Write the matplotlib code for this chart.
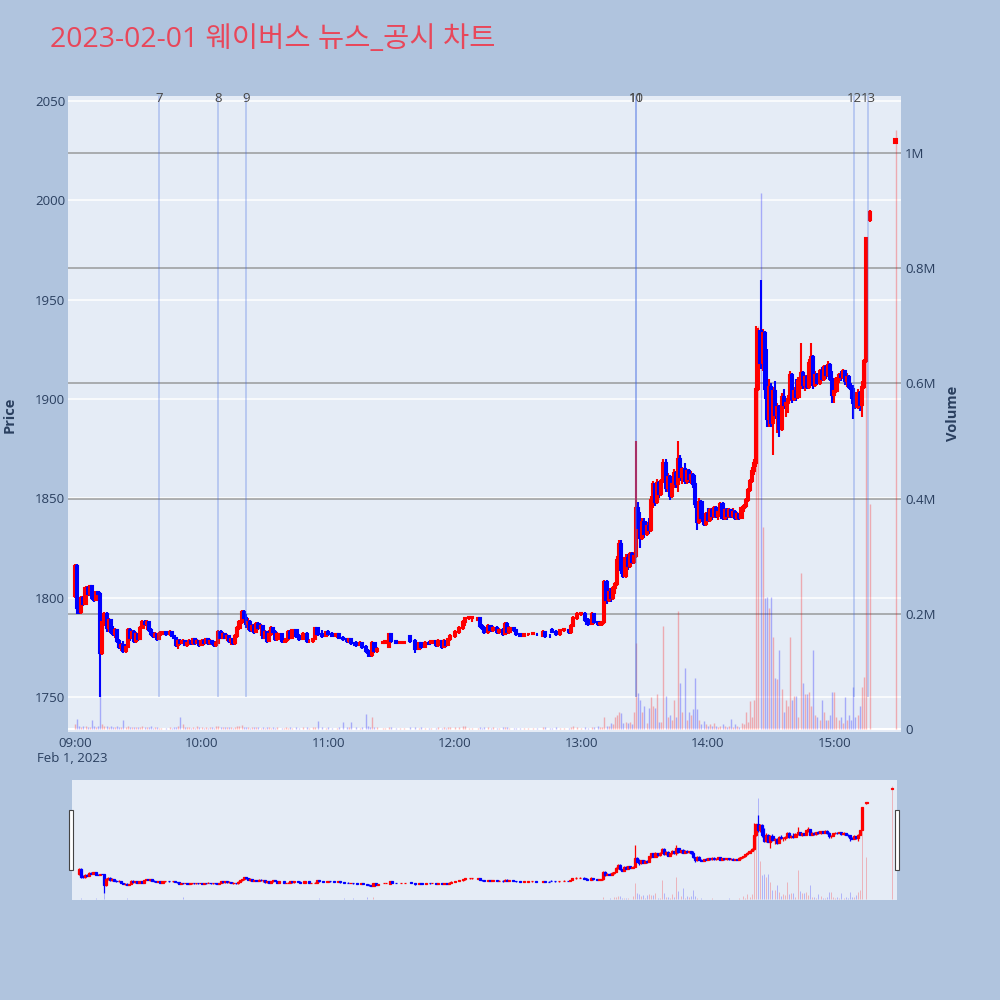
import matplotlib
matplotlib.use('Agg')
import matplotlib.pyplot as plt
from matplotlib.patches import Rectangle

plt.rcParams['font.family'] = ['Open Sans', 'Noto Sans CJK KR', 'DejaVu Sans']

TITLE = '2023-02-01 웨이버스 뉴스_공시 차트'
DATE_LABEL = 'Feb 1, 2023'
X_TICKS = [0, 60, 120, 180, 240, 300, 360]
X_TICK_LABELS = ['09:00', '10:00', '11:00', '12:00', '13:00', '14:00', '15:00']
PRICE_TICKS = [1750, 1800, 1850, 1900, 1950, 2000, 2050]
VOL_TICKS = [0, 200000, 400000, 600000, 800000, 1000000]
VOL_TICK_LABELS = ['0', '0.2M', '0.4M', '0.6M', '0.8M', '1M']

NEWS_LABELS = ['7', '8', '9', '10', '11', '12', '13']
NEWS_MIN = [40, 68, 81, 266, 266, 369.5, 376]

# minutes after 09:00
T = [0, 1, 2, 3, 4, 5, 6, 7, 8, 9, 10, 11, 12, 13, 14, 15, 16, 17, 18, 19,
     20, 21, 22, 23, 24, 25, 26, 27, 28, 29, 30, 31, 32, 33, 34, 35, 36, 37, 38, 39,
     40, 41, 43, 45, 46, 47, 48, 49, 50, 51, 52, 53, 54, 55, 56, 57, 58, 59,
     60, 61, 62, 63, 64, 65, 66, 67, 68, 69, 70, 71, 72, 73, 74, 75, 76, 77, 78, 79,
     80, 81, 82, 83, 84, 85, 86, 87, 88, 89, 90, 91, 92, 93, 94, 95, 96, 98, 99,
     100, 101, 102, 103, 105, 106, 108, 110, 111, 113, 114, 115, 117, 119,
     120, 122, 124, 125, 127, 129, 130, 131, 133, 135, 136, 138, 139,
     140, 141, 142, 143, 146, 147, 149, 150, 152, 154, 156, 159,
     161, 163, 164, 166, 168, 169, 171, 172, 174, 175, 176, 177, 178,
     180, 182, 184, 185, 187, 188, 191, 192, 193, 194, 196, 197, 198,
     200, 201, 203, 204, 205, 206, 208, 209, 211, 213, 215, 217, 219,
     222, 223, 225, 226, 228, 230, 232, 234, 235, 236, 238,
     240, 242, 243, 245, 246, 248, 249, 250,
     251, 252, 253, 254, 255, 256, 257, 258, 259, 260, 261, 262, 263, 264, 265, 266,
     267, 268, 269, 270, 271, 272, 273, 274, 275, 276, 277, 278, 279, 280,
     281, 282, 283, 284, 285, 286, 287, 288, 289, 290, 291, 292, 293, 294, 295,
     296, 297, 298, 299, 300, 301, 302, 303, 304, 305, 306, 307, 308, 309, 310,
     311, 312, 313, 314, 315, 316, 317, 318, 319, 320, 321, 322, 323, 324, 325,
     326, 327, 328, 329, 330, 331, 332, 333, 334, 335, 336, 337, 338, 339, 340,
     341, 342, 343, 344, 345, 346, 347, 348, 349, 350, 351, 352, 353, 354, 355,
     356, 357, 358, 359, 360, 361, 362, 363, 364, 365, 366, 367, 368, 369, 370,
     371, 372, 373, 374, 375, 377, 389]

O = [1801, 1816, 1795, 1793, 1800, 1797, 1805, 1802, 1806, 1800, 1799, 1803, 1802, 1772, 1788, 1792, 1785, 1789, 1783, 1782,
     1784, 1778, 1775, 1776, 1773, 1775, 1784, 1780, 1783, 1778, 1782, 1779, 1785, 1788, 1787, 1788, 1784, 1782, 1781, 1782,
     1779, 1782, 1783, 1782, 1783, 1781, 1780, 1776, 1778, 1777, 1778, 1776, 1777, 1778, 1777, 1779, 1777, 1778,
     1776, 1778, 1777, 1779, 1777, 1778, 1777, 1776, 1777, 1783, 1780, 1782, 1780, 1781, 1778, 1779, 1777, 1781, 1785, 1788,
     1793, 1790, 1787, 1788, 1784, 1786, 1783, 1787, 1785, 1786, 1780, 1783, 1778, 1782, 1785, 1783, 1779, 1782, 1778,
     1778, 1779, 1783, 1780, 1784, 1781, 1779, 1782, 1778, 1778, 1779, 1785, 1782, 1781,
     1783, 1782, 1781, 1782, 1780, 1779, 1778, 1779, 1777, 1776, 1777, 1775, 1773,
     1772, 1771, 1777, 1773, 1777, 1777, 1775, 1782, 1778, 1777, 1777, 1781,
     1778, 1774, 1777, 1775, 1777, 1777, 1778, 1776, 1778, 1775, 1778, 1776, 1779,
     1781, 1783, 1785, 1788, 1790, 1790, 1789, 1790, 1786, 1785, 1783, 1786, 1784,
     1785, 1783, 1784, 1782, 1787, 1783, 1785, 1784, 1782, 1781, 1781.6, 1782, 1782,
     1781, 1783, 1781, 1784, 1783, 1782, 1784, 1784, 1783, 1786, 1790,
     1792, 1792, 1789, 1787, 1792, 1788, 1787, 1787,
     1788, 1808, 1799, 1803, 1800, 1805, 1807, 1819, 1827, 1814, 1811, 1820, 1816, 1822, 1818, 1821,
     1845, 1835, 1830, 1838, 1832, 1836, 1834, 1849, 1857, 1848, 1858, 1852, 1859, 1868,
     1855, 1861, 1851, 1857, 1863, 1857, 1870, 1861, 1865, 1859, 1864, 1860, 1862, 1857, 1847,
     1838, 1848, 1840, 1837, 1842, 1839, 1844, 1841, 1845, 1841, 1843, 1847, 1840, 1844, 1841,
     1844, 1841, 1843, 1840, 1842, 1840, 1845, 1846, 1849, 1854, 1859, 1864, 1868, 1905, 1934,
     1918, 1933, 1905, 1890, 1906, 1888, 1904, 1892, 1896, 1885, 1901, 1897, 1898, 1900, 1912,
     1900, 1904, 1901, 1909, 1913, 1907, 1911, 1906, 1918, 1921, 1907, 1912, 1908, 1914, 1910,
     1916, 1912, 1917, 1910, 1902, 1904, 1910, 1912, 1911, 1914, 1909, 1911, 1906, 1905, 1898,
     1896, 1903, 1897, 1906, 1919, 1990, 2029]

H = [1817, 1817, 1800, 1801, 1801, 1806, 1806, 1806, 1806, 1803, 1803, 1803, 1803, 1792, 1793, 1793, 1790, 1789, 1786, 1785,
     1784, 1779, 1777, 1778, 1776, 1785, 1785, 1784, 1784, 1783, 1782, 1786, 1789, 1789, 1789, 1788, 1785, 1783, 1783, 1782,
     1783, 1783, 1783, 1784, 1783, 1781, 1780, 1779, 1779, 1779, 1778, 1778, 1779, 1778, 1779, 1779, 1779, 1778,
     1779, 1779, 1780, 1779, 1779, 1778, 1778, 1778, 1784, 1784, 1783, 1782, 1782, 1781, 1780, 1779, 1782, 1786, 1789, 1794,
     1794, 1792, 1790, 1789, 1787, 1787, 1788, 1788, 1787, 1786, 1784, 1783, 1784, 1786, 1785, 1784, 1783, 1782, 1779,
     1780, 1784, 1784, 1784, 1784, 1782, 1783, 1783, 1779, 1780, 1785, 1785, 1784, 1783,
     1784, 1783, 1782, 1782, 1781, 1780, 1779, 1779, 1778, 1778, 1777, 1776, 1774,
     1773, 1778, 1777, 1775, 1777.6, 1778, 1782, 1782, 1778, 1778, 1778, 1781,
     1779, 1777, 1777, 1778, 1778, 1778, 1778, 1779, 1778, 1779, 1778, 1780, 1782,
     1784, 1786, 1789, 1790, 1791, 1791, 1790, 1790, 1787, 1786, 1787, 1786, 1786,
     1786, 1785, 1785, 1788, 1788, 1786, 1785, 1784, 1782, 1782, 1782, 1782, 1782,
     1784, 1783, 1782, 1785, 1784, 1784, 1785, 1784, 1787, 1791, 1793,
     1793, 1793, 1790, 1793, 1792, 1788, 1788, 1788,
     1809, 1809, 1805, 1805, 1806, 1808, 1821, 1829, 1829, 1815, 1822, 1822, 1823, 1823, 1823, 1879,
     1848, 1843, 1840, 1840, 1838, 1840, 1851, 1859, 1858, 1860, 1859, 1860, 1870, 1870,
     1863, 1862, 1858, 1865, 1864, 1879, 1872, 1866, 1868, 1865, 1865, 1864, 1863, 1862, 1848,
     1850, 1849, 1842, 1843, 1845, 1845, 1845, 1846, 1846, 1844, 1848, 1848, 1845, 1845, 1845,
     1844, 1845, 1844, 1843, 1842, 1846, 1847, 1850, 1855, 1860, 1866, 1870, 1937, 1936, 1960,
     1935, 1934, 1925, 1910, 1908, 1906, 1909, 1898, 1897, 1903, 1905, 1900, 1902, 1914, 1913,
     1906, 1910, 1911, 1928, 1914, 1912, 1912, 1920, 1928, 1922, 1914, 1913, 1915, 1916, 1917,
     1917, 1919, 1918, 1914, 1906, 1911, 1913, 1914, 1915, 1914, 1913, 1912, 1908, 1907, 1900,
     1905, 1904, 1909, 1920, 1981, 1995, 2031]

L = [1800, 1792, 1792, 1792, 1796, 1797, 1801, 1801, 1799, 1798, 1799, 1801, 1750, 1771, 1786, 1783, 1783, 1782, 1781, 1780,
     1777, 1774, 1773, 1772, 1772, 1775, 1778, 1779, 1777, 1777, 1778, 1779, 1785, 1786, 1784, 1783, 1781, 1780, 1780, 1778,
     1779, 1781, 1781, 1781, 1781, 1779, 1775, 1774, 1776, 1777, 1776, 1775, 1776, 1776, 1776, 1776, 1777, 1775,
     1776, 1776, 1777, 1776, 1776, 1776, 1775, 1775, 1777, 1779, 1779, 1779, 1778, 1777, 1776, 1776, 1776, 1780, 1784, 1787,
     1789, 1785, 1784, 1783, 1783, 1782, 1783, 1784, 1781, 1779, 1779, 1777, 1778, 1781, 1782, 1778, 1778, 1777, 1777,
     1777, 1778, 1779, 1779, 1780, 1778, 1779, 1777, 1777, 1777, 1779, 1781, 1780, 1781,
     1781, 1781, 1780, 1779, 1778, 1777, 1777, 1776, 1775, 1776, 1774, 1772, 1770,
     1770, 1770, 1772, 1772, 1776.6, 1777, 1775, 1777, 1777, 1777, 1777, 1777,
     1772, 1774, 1774, 1775, 1776, 1777, 1775, 1775, 1774, 1775, 1775, 1776, 1778,
     1780, 1782, 1784, 1786, 1789, 1788, 1789, 1785, 1784, 1782, 1782, 1783, 1783,
     1782, 1782, 1781, 1782, 1782, 1782, 1783, 1781, 1781, 1781, 1781, 1781.6, 1781,
     1781, 1780, 1780, 1783, 1781, 1781, 1783, 1782, 1782, 1786, 1789,
     1791, 1788, 1786, 1787, 1787, 1786, 1786, 1786,
     1787, 1797, 1798, 1798, 1799, 1802, 1806, 1815, 1812, 1810, 1810, 1814, 1815, 1817, 1817, 1820,
     1833, 1825, 1829, 1830, 1831, 1832, 1833, 1845, 1846, 1847, 1850, 1851, 1858, 1853,
     1853, 1849, 1850, 1855, 1855, 1853, 1859, 1857, 1857, 1857, 1858, 1857, 1855, 1845, 1834,
     1837, 1838, 1836, 1836, 1838, 1838, 1839, 1840, 1840, 1839, 1842, 1839, 1839, 1839, 1840,
     1840, 1840, 1839, 1839, 1839, 1840, 1843, 1845, 1848, 1853, 1858, 1862, 1866, 1904, 1915,
     1914, 1900, 1886, 1886, 1886, 1872, 1890, 1883, 1881, 1884, 1895, 1891, 1893, 1899, 1898,
     1899, 1899, 1900, 1905, 1905, 1904, 1905, 1905, 1913, 1905, 1906, 1907, 1907, 1909, 1909,
     1910, 1911, 1909, 1898, 1898, 1903, 1908, 1909, 1910, 1907, 1906, 1905, 1900, 1890, 1895,
     1895, 1894, 1891, 1905, 1918, 1989, 2029]

C = [1816, 1795, 1793, 1800, 1797, 1805, 1802, 1806, 1800, 1799, 1803, 1802, 1772, 1788, 1792, 1785, 1789, 1783, 1782, 1784,
     1778, 1775, 1776, 1773, 1775, 1784, 1780, 1783, 1778, 1782, 1779, 1785, 1788, 1787, 1788, 1784, 1782, 1781, 1782, 1779,
     1782, 1783, 1782, 1783, 1781, 1780, 1776, 1778, 1777, 1778, 1776, 1777, 1778, 1777, 1779, 1777, 1778, 1776,
     1778, 1777, 1779, 1777, 1778, 1777, 1776, 1777, 1783, 1780, 1782, 1780, 1781, 1778, 1779, 1777, 1781, 1785, 1788, 1793,
     1790, 1787, 1788, 1784, 1786, 1783, 1787, 1785, 1786, 1780, 1783, 1778, 1782, 1785, 1783, 1779, 1782, 1778, 1778.4,
     1779, 1783, 1780, 1784, 1781, 1779, 1782, 1778, 1778.4, 1779, 1785, 1782, 1781, 1783,
     1782, 1781, 1782, 1780, 1779, 1778, 1779, 1777, 1776, 1777, 1775, 1773, 1772,
     1771, 1777, 1773, 1774, 1777.5, 1778, 1782, 1778, 1777, 1777.5, 1777.5, 1778,
     1774, 1777, 1775, 1777, 1776.6, 1778, 1776, 1778, 1775, 1778, 1776, 1779, 1781,
     1783, 1785, 1788, 1790, 1790.5, 1790.5, 1790, 1786, 1785, 1783, 1786, 1784, 1785,
     1783, 1784, 1782, 1787, 1783, 1785, 1784, 1782, 1781, 1782, 1782, 1782.3, 1781.6,
     1783, 1781, 1780.6, 1783, 1782, 1784, 1784.4, 1783, 1786, 1790, 1792,
     1792.4, 1789, 1787, 1792, 1788, 1787, 1787.4, 1788,
     1808, 1799, 1803, 1800, 1805, 1807, 1819, 1827, 1814, 1811, 1820, 1816, 1822, 1818, 1821, 1845,
     1835, 1830, 1838, 1832, 1836, 1834, 1849, 1857, 1848, 1858, 1852, 1859, 1868, 1855,
     1861, 1851, 1857, 1863, 1857, 1870, 1861, 1865, 1859, 1864, 1860, 1862, 1857, 1847, 1838,
     1848, 1840, 1837, 1842, 1839, 1844, 1841, 1845, 1841, 1843, 1847, 1840, 1844, 1841, 1844,
     1841, 1843, 1840, 1842, 1840, 1845, 1846, 1849, 1854, 1859, 1864, 1868, 1905, 1934, 1918,
     1933, 1905, 1890, 1906, 1888, 1904, 1892, 1896, 1885, 1901, 1897, 1898, 1900, 1912, 1900,
     1904, 1901, 1909, 1913, 1907, 1911, 1906, 1918, 1921, 1907, 1912, 1908, 1914, 1910, 1916,
     1912, 1917, 1910, 1902, 1904, 1910, 1912, 1911, 1914, 1909, 1911, 1906, 1905, 1898, 1896,
     1903, 1897, 1906, 1919, 1981, 1994, 2031]

# volume in thousands of shares
V = [8, 17, 5, 4, 6, 5, 3, 4, 15, 6, 4, 5, 60, 8, 6, 5, 4, 5, 4, 3,
     5, 4, 3, 16, 3, 6, 4, 3, 4, 3, 3, 4, 5, 3, 4, 3, 5, 2, 3, 3,
     2, 2, 2, 3, 2, 3, 4, 5, 20, 8, 3, 4, 3, 2, 3, 2, 6, 3,
     3, 2, 3, 2, 4, 3, 2, 5, 6, 3, 4, 3, 3, 4, 3, 2, 3, 6, 5, 7,
     4, 3, 3, 2, 3, 3, 4, 3, 2, 3, 2, 4, 3, 2, 3, 2, 3, 2, 2,
     3, 2, 3, 2, 3, 2, 3, 4, 2, 3, 4, 14, 3, 2,
     3, 2, 2, 3, 13, 3, 3, 12, 3, 2, 4, 26, 5,
     4, 20, 4, 3, 1, 1, 4, 3, 1, 1, 1, 3,
     4, 2, 3, 2, 1, 1, 2, 3, 2, 3, 2, 3, 4,
     3, 4, 5, 6, 2, 2, 1, 3, 2, 3, 4, 2, 3,
     2, 2, 3, 4, 3, 2, 1, 2, 1, 1, 1, 1, 1,
     3, 4, 2, 2, 3, 2, 1, 2, 3, 5, 4,
     1, 3, 2, 3, 4, 5, 4, 4,
     20, 6, 5, 10, 8, 20, 25, 30, 28, 11, 12, 10, 12, 8, 30, 149,
     62, 50, 30, 40, 10, 37, 55, 40, 37, 60, 12, 12, 178, 58,
     20, 25, 16, 50, 20, 204, 80, 30, 106, 15, 30, 25, 35, 89, 35,
     16, 8, 14, 8, 6, 8, 6, 10, 5, 4, 6, 8, 5, 4, 6,
     17, 4, 8, 5, 3, 10, 8, 30, 12, 48, 20, 50, 600, 700, 930,
     350, 227, 230, 210, 230, 160, 88, 86, 137, 70, 30, 50, 40, 160, 50,
     57, 57, 20, 270, 80, 60, 60, 65, 40, 137, 25, 20, 15, 50, 30,
     15, 15, 25, 65, 65, 20, 15, 20, 10, 56, 15, 25, 15, 73, 20,
     25, 40, 73, 90, 840, 390, 1040]

UP = '#ff0000'
DOWN = '#0000ff'
FONT_C = '#2a3f5f'
XLIM = (-3.3, 391.6)
PLIM = (1732.6, 2052.5)
VLIM = (-4700, 1099000)


def draw_candles(axc, axv, wick_lw, body_lw, vol_lw, body_w):
    cols = [UP if c >= o else DOWN for o, c in zip(O, C)]
    vols = [v * 1000 for v in V]
    axv.vlines(T, 0, vols, colors=cols, lw=vol_lw, alpha=0.28, zorder=2)
    axc.vlines(T, L, H, colors=cols, lw=wick_lw, zorder=3)
    bottoms = [min(o, c) for o, c in zip(O, C)]
    heights = [abs(c - o) for o, c in zip(O, C)]
    axc.bar(T, heights, bottom=bottoms, width=body_w, color=cols,
            edgecolor=cols, linewidth=body_lw, zorder=4)


fig = plt.figure(figsize=(10, 10), dpi=100)
fig.patch.set_facecolor('#B0C4DE')

# ---- main chart
ax = fig.add_axes([0.068, 0.2683, 0.833, 0.6357])
ax.set_facecolor('#E5ECF6')
ax.set_xlim(*XLIM)
ax.set_ylim(*PLIM)
ax.set_yticks(PRICE_TICKS)
ax.set_yticklabels([str(p) for p in PRICE_TICKS])
for p in PRICE_TICKS:
    ax.axhline(p, color='white', lw=1.1, zorder=0)
ax.set_xticks(X_TICKS)
ax.set_xticklabels(X_TICK_LABELS)
ax.tick_params(axis='both', length=0, labelsize=9.5, labelcolor=FONT_C)
ax.tick_params(axis='y', pad=2)
ax.tick_params(axis='x', pad=4)
for s in ax.spines.values():
    s.set_visible(False)

axv = ax.twinx()
axv.set_xlim(*XLIM)
axv.set_ylim(*VLIM)
axv.set_yticks(VOL_TICKS)
axv.set_yticklabels(VOL_TICK_LABELS)
axv.tick_params(axis='y', length=0, pad=3, labelsize=9.5, labelcolor=FONT_C)
axv.axhline(0, color='white', lw=1.5, zorder=1)
for v in VOL_TICKS[1:]:
    axv.axhline(v, color='#8c8c8c', lw=1.1, alpha=0.85, zorder=1)
for s in axv.spines.values():
    s.set_visible(False)

axc = ax.twinx()
axc.set_xlim(*XLIM)
axc.set_ylim(*PLIM)
axc.set_yticks([])
for s in axc.spines.values():
    s.set_visible(False)

draw_candles(axc, axv, wick_lw=1.5, body_lw=1.5, vol_lw=1.0, body_w=1.0)

for lab, tm in zip(NEWS_LABELS, NEWS_MIN):
    axc.vlines(tm, 1750, PLIM[1], colors='royalblue', lw=1.1, alpha=0.35, zorder=5)
    axc.text(tm, 2049.5, lab, ha='center', va='baseline', fontsize=9.5,
             color='#444444', zorder=6)

fig.text(0.010, 1 - 0.415, 'Price', rotation=90, ha='center', va='center',
         fontsize=10.5, fontweight='bold', color=FONT_C)
fig.text(0.953, 1 - 0.413, 'Volume', rotation=90, ha='center', va='center',
         fontsize=10.5, fontweight='bold', color=FONT_C)
fig.text(0.037, 1 - 0.758, DATE_LABEL, ha='left', va='center', fontsize=9.5,
         color=FONT_C)
fig.text(0.050, 1 - 0.040, TITLE, ha='left', va='center', fontsize=20.5,
         color='#E8475A')

# ---- range slider
axs = fig.add_axes([0.072, 0.100, 0.825, 0.120])
axs.set_facecolor('#E5ECF6')
axs.set_xlim(*XLIM)
axs.set_ylim(*PLIM)
axs.set_xticks([])
axs.set_yticks([])
for s in axs.spines.values():
    s.set_visible(False)
axsv = axs.twinx()
axsv.set_ylim(*VLIM)
axsv.set_yticks([])
for s in axsv.spines.values():
    s.set_visible(False)
axsc = axs.twinx()
axsc.set_ylim(*PLIM)
axsc.set_yticks([])
for s in axsc.spines.values():
    s.set_visible(False)
draw_candles(axsc, axsv, wick_lw=0.9, body_lw=0.9, vol_lw=0.6, body_w=1.0)

for xh in (0.069, 0.895):
    fig.add_artist(Rectangle((xh, 1 - 0.870), 0.004, 0.060, transform=fig.transFigure,
                             facecolor='white', edgecolor='#444444', lw=0.8))

fig.savefig('out.png', dpi=100, facecolor=fig.get_facecolor())
